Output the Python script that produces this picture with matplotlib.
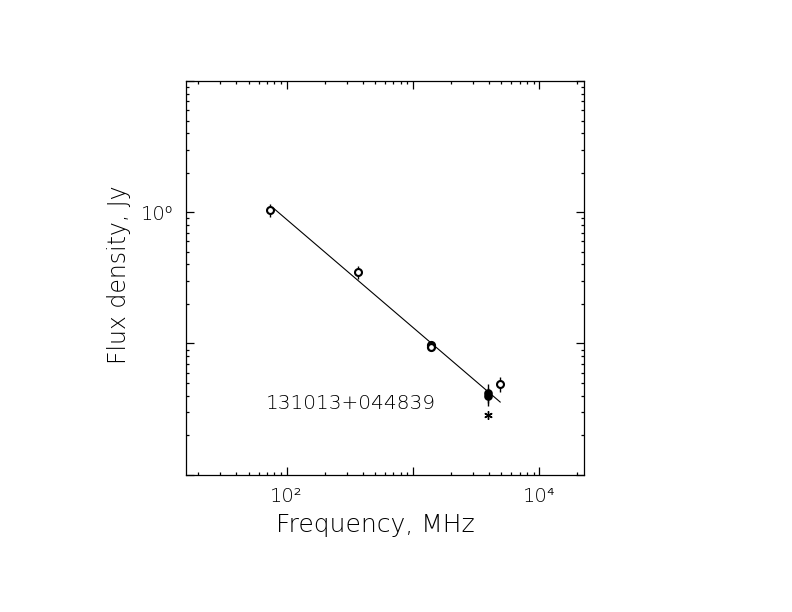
import numpy as np
import matplotlib
matplotlib.use("Agg")
import matplotlib.pyplot as plt
from matplotlib.ticker import LogLocator, FuncFormatter, NullFormatter

plt.rcParams['font.family'] = ['DejaVu Sans']
plt.rcParams['font.weight'] = 200
plt.rcParams['axes.labelweight'] = 200

# open circles with error bars (74, 365, 4850 MHz)
freq_open = [74, 365, 4850]
flux_open = [1.04, 0.348, 0.0489]
err_open = [0.12, 0.04, 0.0065]

# 1400 MHz pair (overlapping)
freq_1400 = [1400, 1400]
flux_1400 = [0.0975, 0.0945]

# 3940 MHz filled points
freq_ratan = [3940, 3940]
flux_ratan = [0.0420, 0.0395]
err_ratan = [0.007, 0.006]

# star point
freq_star = [3940]
flux_star = [0.0287]

# power-law fit: log S = a + b log f
fit_a = 1.5927
fit_b = -0.8235
fit_range = [79, 4900]

source_name = "131013+044839"
sup = {0: '\u2070', 2: '\u00b2', 4: '\u2074'}

fig = plt.figure(figsize=(7.92, 6.12), dpi=100)
ax = fig.add_axes([0.2348, 0.2243, 0.503, 0.6433])
ax.set_xscale('log')
ax.set_yscale('log')
ax.set_xlim(16, 22700)
ax.set_ylim(0.01, 10)

ff = np.array(fit_range, dtype=float)
ax.plot(ff, 10 ** (fit_a + fit_b * np.log10(ff)), color='black', lw=0.8)

ax.errorbar(freq_open, flux_open, yerr=err_open, fmt='o', ms=5, mew=1.5,
            mfc='white', mec='black', ecolor='black', elinewidth=1.0, capsize=0)
ax.plot(freq_1400, flux_1400, 'o', ms=5, mew=1.6, mfc='white', mec='black')
ax.errorbar(freq_ratan, flux_ratan, yerr=err_ratan, fmt='o', ms=5, mew=1.2,
            mfc='black', mec='black', ecolor='black', elinewidth=1.0, capsize=0)
ax.plot(freq_star, flux_star, marker=(6, 2, 0), ms=6, mew=1.0, color='black', ls='none')

ax.text(69, 0.0352, source_name, fontsize=14.5, va='center', ha='left')

ax.xaxis.set_major_locator(LogLocator(base=10, numticks=10))
ax.yaxis.set_major_locator(LogLocator(base=10, numticks=10))
ax.xaxis.set_minor_locator(LogLocator(base=10, subs=np.arange(2, 10), numticks=10))
ax.yaxis.set_minor_locator(LogLocator(base=10, subs=np.arange(2, 10), numticks=10))


def xfmt(v, pos):
    e = int(round(np.log10(v)))
    return '10' + sup[e] if e in (2, 4) else ''


def yfmt(v, pos):
    e = int(round(np.log10(v)))
    return '10' + sup[e] if e == 0 else ''


ax.xaxis.set_major_formatter(FuncFormatter(xfmt))
ax.yaxis.set_major_formatter(FuncFormatter(yfmt))
ax.xaxis.set_minor_formatter(NullFormatter())
ax.yaxis.set_minor_formatter(NullFormatter())

ax.tick_params(which='both', direction='in', top=True, right=True, width=0.9)
ax.tick_params(which='major', length=5.5, labelsize=14)
ax.tick_params(which='minor', length=2.5)
ax.tick_params(axis='x', which='major', pad=9)
ax.tick_params(axis='y', which='major', pad=9)
for s in ax.spines.values():
    s.set_linewidth(0.9)

ax.set_xlabel("Frequency, MHz", fontsize=18)
ax.set_ylabel("Flux density, Jy", fontsize=17)
ax.xaxis.label.set_va('center')
ax.yaxis.label.set_va('center')
ax.xaxis.set_label_coords(0.476, -0.128)
ax.yaxis.set_label_coords(-0.168, 0.507)

fig.savefig("out.png", dpi=100)
